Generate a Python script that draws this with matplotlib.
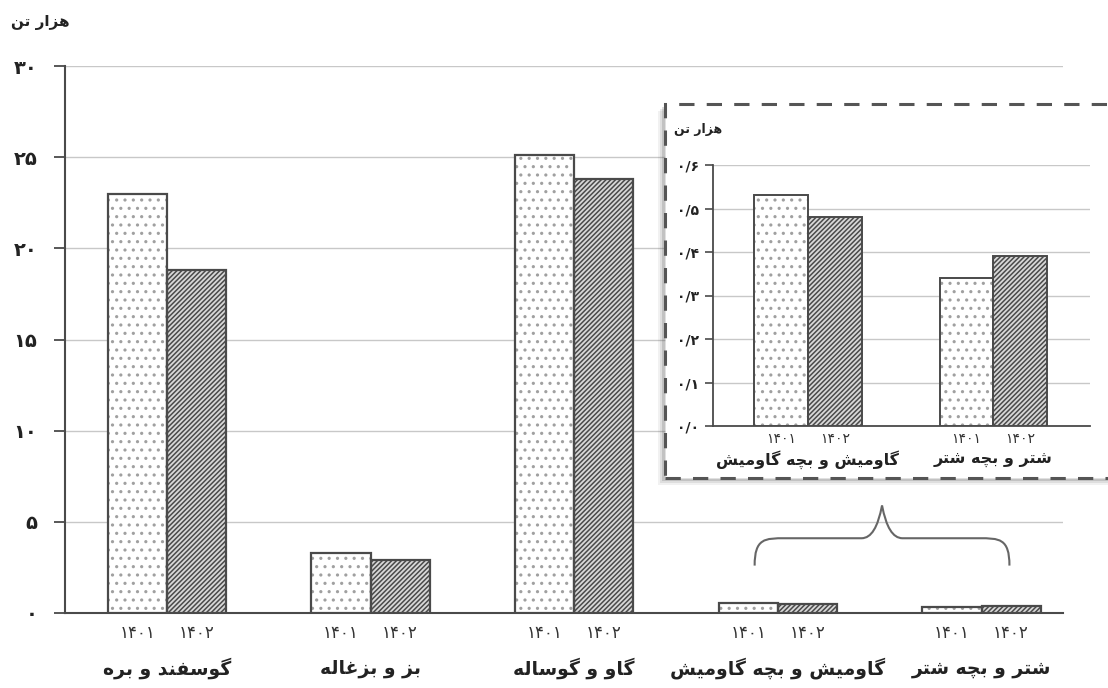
import matplotlib.pyplot as plt
import matplotlib.patches as mpatches
from matplotlib.path import Path
from matplotlib.transforms import blended_transform_factory
import numpy as np

# data (thousand tonnes)
categories = ['گوسفند و بره', 'بز و بزغاله', 'گاو و گوساله', 'گاومیش و بچه گاومیش', 'شتر و بچه شتر']
years = ['۱۴۰۱', '۱۴۰۲']
v1401 = [23.0, 3.3, 25.1, 0.53, 0.34]
v1402 = [18.8, 2.9, 23.8, 0.48, 0.39]
main_ticks = [0, 5, 10, 15, 20, 25, 30]
main_ticklabels = ['۰', '۵', '۱۰', '۱۵', '۲۰', '۲۵', '۳۰']
inset_ticks = [0, 0.1, 0.2, 0.3, 0.4, 0.5, 0.6]
inset_ticklabels = ['۰/۰', '۰/۱', '۰/۲', '۰/۳', '۰/۴', '۰/۵', '۰/۶']
unit = 'هزار تن'

# simple arabic-script shaping (matplotlib has no complex text layout)
FORMS = {
    'ا': ('\uFE8D', '\uFE8E', None, None),
    'ب': ('\uFE8F', '\uFE90', '\uFE91', '\uFE92'),
    'ت': ('\uFE95', '\uFE96', '\uFE97', '\uFE98'),
    'د': ('\uFEA9', '\uFEAA', None, None),
    'ر': ('\uFEAD', '\uFEAE', None, None),
    'ز': ('\uFEAF', '\uFEB0', None, None),
    'س': ('\uFEB1', '\uFEB2', '\uFEB3', '\uFEB4'),
    'ش': ('\uFEB5', '\uFEB6', '\uFEB7', '\uFEB8'),
    'غ': ('\uFECD', '\uFECE', '\uFECF', '\uFED0'),
    'ف': ('\uFED1', '\uFED2', '\uFED3', '\uFED4'),
    'ل': ('\uFEDD', '\uFEDE', '\uFEDF', '\uFEE0'),
    'م': ('\uFEE1', '\uFEE2', '\uFEE3', '\uFEE4'),
    'ن': ('\uFEE5', '\uFEE6', '\uFEE7', '\uFEE8'),
    'ه': ('\uFEE9', '\uFEEA', '\uFEEB', '\uFEEC'),
    'و': ('\uFEED', '\uFEEE', None, None),
    'ی': ('\uFBFC', '\uFBFD', '\uFBFE', '\uFBFF'),
    'گ': ('\uFB92', '\uFB93', '\uFB94', '\uFB95'),
    'چ': ('\uFB7A', '\uFB7B', '\uFB7C', '\uFB7D'),
}


def fa(s):
    out = []
    for i, c in enumerate(s):
        if c not in FORMS:
            out.append(c)
            continue
        prev = s[i - 1] if i > 0 else ''
        nxt = s[i + 1] if i + 1 < len(s) else ''
        jp = prev in FORMS and FORMS[prev][2] is not None
        jn = FORMS[c][2] is not None and nxt in FORMS
        iso, fin, ini, med = FORMS[c]
        if jp and jn:
            out.append(med)
        elif jp:
            out.append(fin)
        elif jn:
            out.append(ini)
        else:
            out.append(iso)
    return ''.join(out)[::-1]


plt.rcParams['font.family'] = ['DejaVu Sans']
plt.rcParams['hatch.linewidth'] = 1.1

dark = '#4a4a4a'
grid = '#c8c8c8'
w = 0.29


def draw_bars(ax, a, b, x, lw):
    ax.bar(x - w / 2, a, w, color='white', edgecolor='#a0a0a0', hatch='..', linewidth=0, zorder=3)
    ax.bar(x - w / 2, a, w, fill=False, edgecolor=dark, linewidth=lw, zorder=4)
    ax.bar(x + w / 2, b, w, color='#d8d8d8', edgecolor='#4a4a4a', hatch='///////', linewidth=0, zorder=3)
    ax.bar(x + w / 2, b, w, fill=False, edgecolor=dark, linewidth=lw, zorder=4)


fig = plt.figure(figsize=(11.08, 6.88), dpi=100)
ax = fig.add_axes([65 / 1108, 1 - 613 / 688, 998 / 1108, 547 / 688])
x = np.arange(len(categories))
draw_bars(ax, v1401, v1402, x, 1.6)
ax.set_xlim(-0.5, 4.4)
ax.set_ylim(0, 30)
ax.set_yticks(main_ticks)
ax.set_yticklabels(main_ticklabels, fontsize=14, fontweight='bold', color='#222222')
ax.yaxis.grid(True, color=grid, linewidth=1)
ax.set_axisbelow(True)
ax.tick_params(axis='y', length=8, width=1.3, color=dark, pad=12)
for s in ['top', 'right']:
    ax.spines[s].set_visible(False)
ax.spines['left'].set_color(dark)
ax.spines['left'].set_linewidth(1.5)
ax.spines['bottom'].set_color(dark)
ax.spines['bottom'].set_linewidth(1.5)
ax.set_xticks(np.concatenate([x - w / 2, x + w / 2]))
ax.set_xticklabels([years[0]] * len(x) + [years[1]] * len(x), fontsize=12, color='#333333')
ax.tick_params(axis='x', length=0, pad=8)
tr = blended_transform_factory(ax.transData, fig.transFigure)
for i, c in enumerate(categories):
    ax.text(i, 1 - 668 / 688, fa(c), transform=tr, ha='center', va='center',
            fontsize=13.5, fontweight='bold', color='#222222')
fig.text(40 / 1108, 1 - 22 / 688, fa(unit), ha='center', va='center', fontsize=11, fontweight='bold', color='#222222')

# curly brace under inset
bx0, bx1, by0, by1, btip = 2.886, 4.137, 2.6, 4.1, 5.9
bm = (bx0 + bx1) / 2
verts = [(bx0, by0), (bx0, by1), (bx0 + 0.05, by1), (bx0 + 0.15, by1),
         (bm - 0.1, by1), (bm - 0.03, by1), (bm, btip),
         (bm + 0.03, by1), (bm + 0.1, by1), (bx1 - 0.15, by1),
         (bx1 - 0.05, by1), (bx1, by1), (bx1, by0)]
codes = [Path.MOVETO, Path.CURVE4, Path.CURVE4, Path.CURVE4, Path.LINETO,
         Path.CURVE3, Path.CURVE3, Path.CURVE3, Path.CURVE3, Path.LINETO,
         Path.CURVE4, Path.CURVE4, Path.CURVE4]
ax.add_patch(mpatches.PathPatch(Path(verts, codes), fill=False, edgecolor='#666666', linewidth=1.5, zorder=5))

# inset box with shadow
bx, by, bw, bh = 665 / 1108, 1 - 478 / 688, 460 / 1108, 374 / 688
for k, a in [(7, 0.08), (5, 0.12), (3, 0.2)]:
    fig.add_artist(mpatches.Rectangle((bx - k / 1108, by - k / 688), bw, bh, transform=fig.transFigure,
                                      facecolor='#555555', edgecolor='none', alpha=a, zorder=1))
fig.add_artist(mpatches.Rectangle((bx, by), bw, bh, transform=fig.transFigure, facecolor='white',
                                  edgecolor='#555555', linestyle=(0, (5, 4)), linewidth=2.2, zorder=1.1))

axi = fig.add_axes([713 / 1108, 1 - 426 / 688, 377 / 1108, 261 / 688], zorder=2)
axi.patch.set_alpha(0)
xi = np.arange(2)
draw_bars(axi, v1401[3:], v1402[3:], xi, 1.4)
axi.set_xlim(-0.51, 1.52)
axi.set_ylim(0, 0.6)
axi.set_yticks(inset_ticks)
axi.set_yticklabels(inset_ticklabels, fontsize=10, fontweight='bold', color='#222222')
axi.yaxis.grid(True, color=grid, linewidth=1)
axi.set_axisbelow(True)
axi.tick_params(axis='y', length=6, width=1.2, color=dark, pad=4)
for s in ['top', 'right']:
    axi.spines[s].set_visible(False)
axi.spines['left'].set_color(dark)
axi.spines['left'].set_linewidth(1.3)
axi.spines['bottom'].set_color(dark)
axi.spines['bottom'].set_linewidth(1.3)
axi.set_xticks(np.concatenate([xi - w / 2, xi + w / 2]))
axi.set_xticklabels([years[0]] * 2 + [years[1]] * 2, fontsize=10, color='#333333')
axi.tick_params(axis='x', length=0, pad=4)
tri = blended_transform_factory(axi.transData, fig.transFigure)
for i, c in enumerate(categories[3:]):
    axi.text(i, 1 - 460 / 688, fa(c), transform=tri, ha='center', va='center',
             fontsize=11.5, fontweight='bold', color='#222222')
fig.text(698 / 1108, 1 - 130 / 688, fa(unit), ha='center', va='center', fontsize=9, fontweight='bold', color='#222222',
         zorder=3)

fig.savefig('out.png', dpi=100)
